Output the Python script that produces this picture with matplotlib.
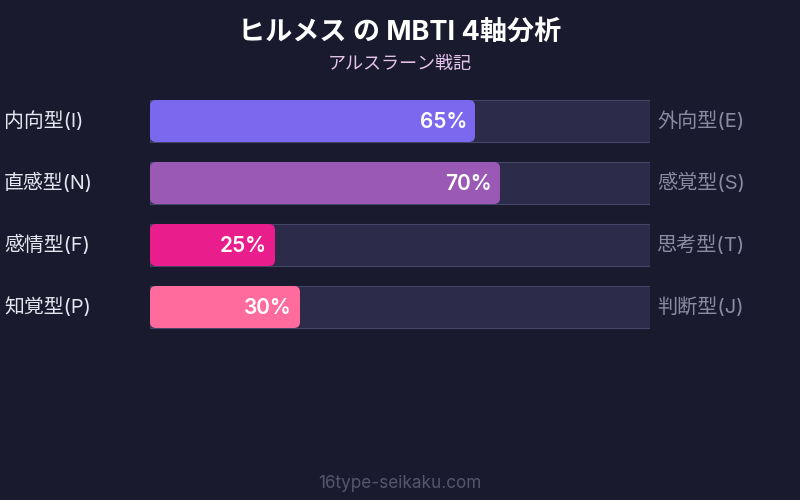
import matplotlib
matplotlib.use("Agg")
import matplotlib.pyplot as plt
from matplotlib.patches import FancyBboxPatch, Rectangle

title = "ヒルメス の MBTI 4軸分析"
subtitle = "アルスラーン戦記"
footer = "16type-seikaku.com"
left_labels = ["内向型(I)", "直感型(N)", "感情型(F)", "知覚型(P)"]
right_labels = ["外向型(E)", "感覚型(S)", "思考型(T)", "判断型(J)"]
values = [65, 70, 25, 30]
colors = ["#7b68ee", "#9b59b6", "#e91e8c", "#ff6b9d"]

BG = "#1a1a2e"
TRACK = "#2d2b4a"
TRACK_EDGE = "#45456a"
FONT = ["Inter", "Noto Sans CJK JP", "DejaVu Sans"]

fig = plt.figure(figsize=(8, 5), dpi=100, facecolor=BG)

ax = fig.add_axes([150 / 800, (500 - 338) / 500, 500 / 800, 248 / 500])
ax.set_facecolor(BG)
ax.set_xlim(0, 100)
ax.set_ylim(len(values) - 0.5, -0.5)
ax.axis("off")

bar_h = 42 / 62
px_x = 5.0   # pixels per x unit
px_y = 62.0  # pixels per y unit
r_px = 6.0
r = r_px / px_x
aspect = px_x / px_y

for i, (v, c) in enumerate(zip(values, colors)):
    ax.add_patch(Rectangle((0, i - bar_h / 2), 100, bar_h, facecolor=TRACK,
                           edgecolor=TRACK_EDGE, linewidth=0.8, zorder=1))
    ax.add_patch(FancyBboxPatch((0, i - bar_h / 2), v, bar_h,
                                boxstyle=f"round,pad=0,rounding_size={r}",
                                mutation_aspect=aspect,
                                facecolor=c, edgecolor="none", zorder=2))
    ax.text(v - 1.6, i + 0.02, f"{v}%", ha="right", va="center", color="white",
            fontsize=15, fontweight="semibold", family=FONT, zorder=3)
    ax.text(-29.2, i, left_labels[i], ha="left", va="center", color="#e6e6f0",
            fontsize=14.3, family=FONT, clip_on=False)
    ax.text(101.4, i, right_labels[i], ha="left", va="center", color="#8a8aa2",
            fontsize=14.5, family=FONT, clip_on=False)

fig.text(0.5, 1 - 33 / 500, title, ha="center", va="center", color="white",
         fontsize=19.5, fontweight="bold", family=FONT)
fig.text(0.5, 1 - 64 / 500, subtitle, ha="center", va="center", color="#e3c3ec",
         fontsize=13, family=FONT)
fig.text(0.5, 1 - 484 / 500, footer, ha="center", va="center", color="#55556e",
         fontsize=12.3, family=FONT)

fig.savefig("out.png", dpi=100, facecolor=BG)
